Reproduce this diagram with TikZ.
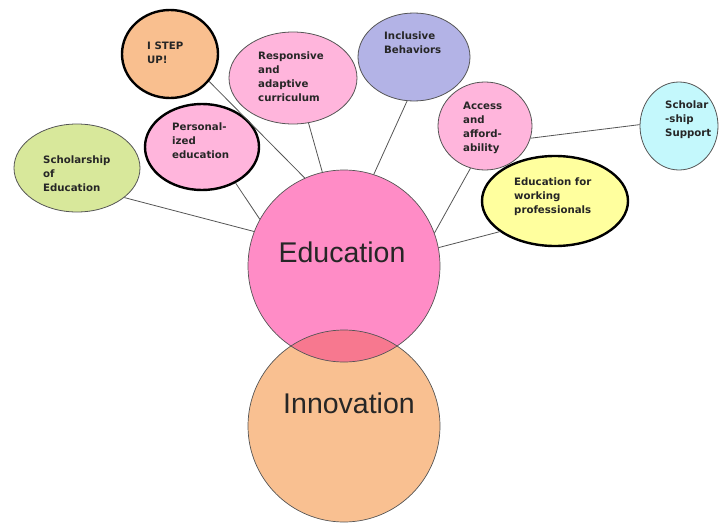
\documentclass[tikz,border=0pt]{standalone}
\usepackage{fontspec}
\setmainfont{Liberation Sans}
\newfontfamily\smallfont{DejaVu Sans}
\usetikzlibrary{shapes.geometric}
\definecolor{edufill}{HTML}{FF8CC6}
\definecolor{innofill}{HTML}{F9C091}
\definecolor{lensfill}{HTML}{F7788F}
\definecolor{pinkfill}{HTML}{FFB5DC}
\definecolor{lavfill}{HTML}{B3B3E6}
\definecolor{greenfill}{HTML}{D8E89B}
\definecolor{cyanfill}{HTML}{C4F8FC}
\definecolor{yelfill}{HTML}{FFFF9E}
\definecolor{orgfill}{HTML}{F9BF8F}
\definecolor{linegray}{HTML}{555555}
\begin{document}
\begin{tikzpicture}[x=1pt,y=-1pt,
  bubble/.style={ellipse, draw=linegray, line width=0.8pt, inner sep=0pt},
  boldbubble/.style={ellipse, draw=black, line width=2.4pt, inner sep=0pt},
  smalltxt/.style={anchor=north west, inner sep=0pt, align=left, text=black!85,
     font=\smallfont\fontsize{10.2}{13.8}\selectfont\bfseries},
  bigtxt/.style={inner sep=0pt, font=\fontsize{28.5}{30}\selectfont, text=black!85},
  conn/.style={draw=linegray, line width=0.8pt}]
\useasboundingbox (0,0) rectangle (720,522);

% main circles
\node[circle, minimum size=192pt, inner sep=0pt, fill=innofill] (inno) at (344,426) {};
\node[circle, minimum size=192pt, inner sep=0pt, fill=edufill] (edu) at (344,266) {};
\begin{scope}
  \clip (344,426) circle (96);
  \fill[lensfill] (344,266) circle (96);
\end{scope}
\draw[linegray, line width=0.7pt] (344,426) circle (96);
\draw[linegray, line width=0.7pt] (344,266) circle (96);
\node[bigtxt] (edut) at (342,252) {Education};
\node[bigtxt] (innot) at (349,403) {Innovation};

% satellite bubbles
\node[boldbubble, fill=orgfill, minimum width=96pt, minimum height=88pt] (istep) at (170,54) {};
\node[bubble, fill=pinkfill, minimum width=128pt, minimum height=92pt] (resp) at (293,78) {};
\node[boldbubble, fill=pinkfill, minimum width=114pt, minimum height=86pt] (pers) at (202,147) {};
\node[bubble, fill=greenfill, minimum width=126pt, minimum height=88pt] (schol) at (77,168) {};
\node[bubble, fill=lavfill, minimum width=112pt, minimum height=88pt] (incl) at (414,57) {};
\node[bubble, fill=pinkfill, minimum width=94pt, minimum height=88pt] (acc) at (485,126) {};
\node[bubble, fill=cyanfill, minimum width=78pt, minimum height=88pt] (ship) at (679,126) {};
\node[boldbubble, fill=yelfill, minimum width=146pt, minimum height=90pt] (work) at (555,201) {};

% texts
\node[smalltxt] (istept) at (147,42) {I STEP\\UP!};
\node[smalltxt] (respt) at (258,52) {Responsive\\and\\adaptive\\curriculum};
\node[smalltxt] (perst) at (172,123) {Personal-\\ized\\education};
\node[smalltxt] (scholt) at (43,156) {Scholarship\\of\\Education};
\node[smalltxt] (inclt) at (384,32) {Inclusive\\Behaviors};
\node[smalltxt] (acct) at (463,102) {Access\\and\\afford-\\ability};
\node[smalltxt] (shipt) at (665,101) {Scholar\\-ship\\Support};
\node[smalltxt] (workt) at (514,178) {Education for\\working\\professionals};

% connectors
\draw[conn] (istep.-35) -- (edu.114);
\draw[conn] (resp.-71) -- (edu.103);
\draw[conn] (pers.-47) -- (edu.151);
\draw[conn] (schol.-32) -- (edu.159);
\draw[conn] (incl.-99) -- (edu.72);
\draw[conn] (acc.-109) -- (edu.20);
\draw[conn] (acc.-15) -- (ship.178);
\draw[conn] (work.209) -- (edu.11);
\end{tikzpicture}
\end{document}
